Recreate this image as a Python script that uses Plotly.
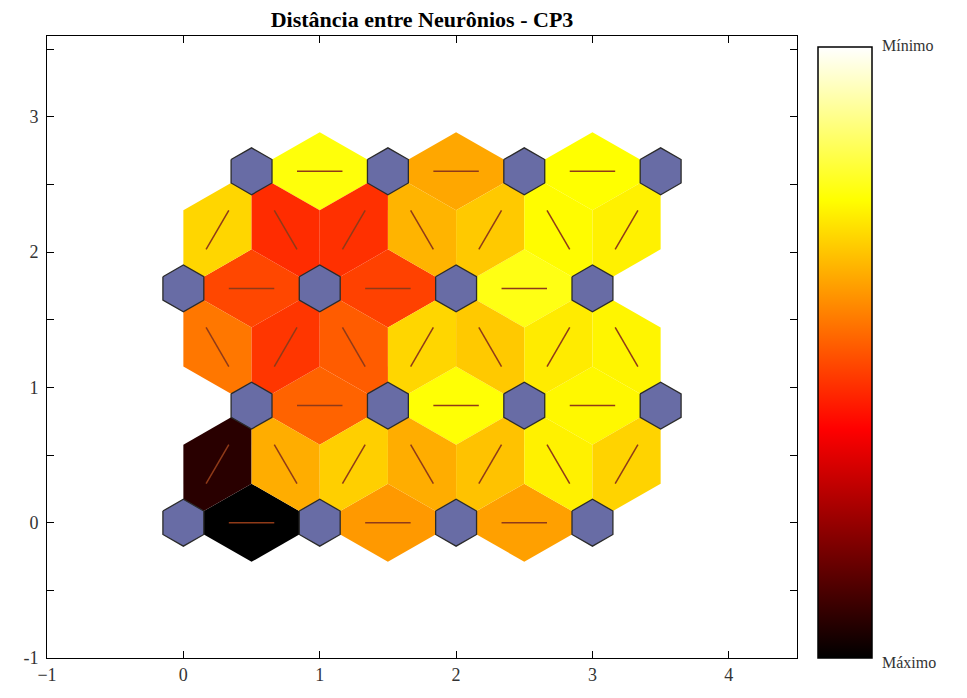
import numpy as np
import plotly.graph_objects as go
from plotly.colors import sample_colorscale

# ---------------- data ----------------
titulo = "Distância entre Neurônios - CP3"
rotulo_min = "Mínimo"
rotulo_max = "Máximo"

grid_cols = 4          # hextop 4 x 4
grid_rows = 4

# normalised neighbour distances (0 = mínimo, 1 = máximo)
# horizontal edges in each row of neurons (left -> right)
dist_linha0 = [1.00, 0.40, 0.39]
dist_linha1 = [0.48, 0.245, 0.26]
dist_linha2 = [0.52, 0.53, 0.23]
dist_linha3 = [0.24, 0.38, 0.25]
# diagonal edges between consecutive rows (left -> right)
dist_diag01 = [0.94, 0.37, 0.32, 0.37, 0.34, 0.27, 0.315]
dist_diag12 = [0.45, 0.545, 0.49, 0.31, 0.33, 0.28, 0.265]
dist_diag23 = [0.31, 0.56, 0.555, 0.36, 0.33, 0.255, 0.27]

x_ticks = [-1, 0, 1, 2, 3, 4]
y_ticks = [-1, -0.5, 0, 0.5, 1, 1.5, 2, 2.5, 3, 3.5]
y_ticktext = ["-1", "", "0", "", "1", "", "2", "", "3", ""]

# ---------------- styles ----------------
hot = [[0.0, "rgb(0,0,0)"], [0.375, "rgb(255,0,0)"],
       [0.75, "rgb(255,255,0)"], [1.0, "rgb(255,255,255)"]]
neuron_fill = "rgb(104,108,165)"
neuron_line = "#2b2b2b"
edge_line_color = "#8f3a18"
serif = "Liberation Serif, Times New Roman, serif"

# page offset compensation (browser body margin of 8px)
W, H = 959, 690
L, R, T, B = 39, 170, 28, 40
plot_w = W - L - R
plot_h = H - T - B

# ---------------- geometry (hextop) ----------------
Z = np.sqrt(0.75) / 3.0
def pos(i, j):
    return np.array([i + 0.5 * (j % 2), j * np.sqrt(0.75)])

rows = [[pos(i, j) for i in range(grid_cols)] for j in range(grid_rows)]

edges = []  # (pa, pb, dist)
linhas = [dist_linha0, dist_linha1, dist_linha2, dist_linha3]
diags = [dist_diag01, dist_diag12, dist_diag23]
for j in range(grid_rows):
    for i in range(grid_cols - 1):
        edges.append((rows[j][i], rows[j][i + 1], linhas[j][i]))
for j in range(grid_rows - 1):
    pairs = []
    for a in rows[j]:
        for b in rows[j + 1]:
            if abs(np.linalg.norm(a - b) - 1) < 1e-6:
                pairs.append((a, b))
    pairs.sort(key=lambda p: (p[0][0] + p[1][0]) / 2)
    for k, (a, b) in enumerate(pairs):
        edges.append((a, b, diags[j][k]))

fig = go.Figure()

levels = [1 - d for _, _, d in edges]
colors = sample_colorscale(hot, levels)

# edge patches (rhombi)
for (a, b, d), c in zip(edges, colors):
    mid = (a + b) / 2
    v = (b - a) / np.linalg.norm(b - a)
    perp = np.array([-v[1], v[0]])
    pts = [a, mid + perp * Z, b, mid - perp * Z, a]
    fig.add_trace(go.Scatter(
        x=[p[0] for p in pts], y=[p[1] for p in pts], mode="lines",
        fill="toself", fillcolor=c, line=dict(width=0, color=c),
        hoverinfo="skip", showlegend=False))

# connection lines
for a, b, d in edges:
    p1 = (2 * a + b) / 3
    p2 = (a + 2 * b) / 3
    fig.add_trace(go.Scatter(
        x=[p1[0], p2[0]], y=[p1[1], p2[1]], mode="lines",
        line=dict(color=edge_line_color, width=1.5),
        hoverinfo="skip", showlegend=False))

# neurons
hx = np.array([-1, 0, 1, 1, 0, -1, -1]) * 0.5 * 0.3
hy = np.array([1, 2, 1, -1, -2, -1, 1]) * Z * 0.3
for row in rows:
    for p in row:
        fig.add_trace(go.Scatter(
            x=p[0] + hx, y=p[1] + hy, mode="lines", fill="toself",
            fillcolor=neuron_fill, line=dict(color=neuron_line, width=1.3),
            hoverinfo="skip", showlegend=False))

# colour bar carrier
mids = [(a + b) / 2 for a, b, _ in edges]
fig.add_trace(go.Scatter(
    x=[m[0] for m in mids], y=[m[1] for m in mids], mode="markers",
    marker=dict(size=1, opacity=0, color=levels, colorscale=hot, cmin=0, cmax=1,
                showscale=True,
                colorbar=dict(x=(810 - L) / plot_w, xanchor="left", xpad=0,
                              y=0, yanchor="bottom", ypad=0,
                              len=611 / plot_h, lenmode="fraction",
                              thickness=54, thicknessmode="pixels",
                              outlinewidth=1.5, outlinecolor="black",
                              showticklabels=False, ticks="")),
    hoverinfo="skip", showlegend=False))

ymax = (grid_rows - 1) * np.sqrt(0.75) + 1
xmax = (grid_cols - 1) + 0.5 + 1

axis_common = dict(showgrid=False, zeroline=False, showline=True, linecolor="black",
                   linewidth=1, mirror="ticks", ticks="inside", ticklen=7,
                   tickcolor="black",
                   tickfont=dict(family=serif, size=18, color="#333"))
fig.update_xaxes(range=[-1, xmax], tickvals=x_ticks, **axis_common)
fig.update_yaxes(range=[-1, ymax], tickvals=y_ticks, ticktext=y_ticktext,
                 ticklabelstandoff=4, **axis_common)

fig.update_layout(
    width=W, height=H,
    margin=dict(l=L, r=R, t=T, b=B),
    plot_bgcolor="white", paper_bgcolor="white",
    showlegend=False,
    title=dict(text="<b>" + titulo + "</b>", x=0.5, xref="paper", xanchor="center",
               y=1 - 4 / H, yref="container", yanchor="top",
               font=dict(family=serif, size=22, color="black")),
    annotations=[
        dict(text=rotulo_min, xref="paper", yref="paper", x=(872 - L) / plot_w,
             y=(plot_h - 10) / plot_h,
             xanchor="left", yanchor="middle", showarrow=False,
             font=dict(family=serif, size=16, color="#333")),
        dict(text=rotulo_max, xref="paper", yref="paper", x=(872 - L) / plot_w,
             y=-4 / plot_h,
             xanchor="left", yanchor="middle", showarrow=False,
             font=dict(family=serif, size=16, color="#333")),
    ],
)

fig.write_html("out.html")
